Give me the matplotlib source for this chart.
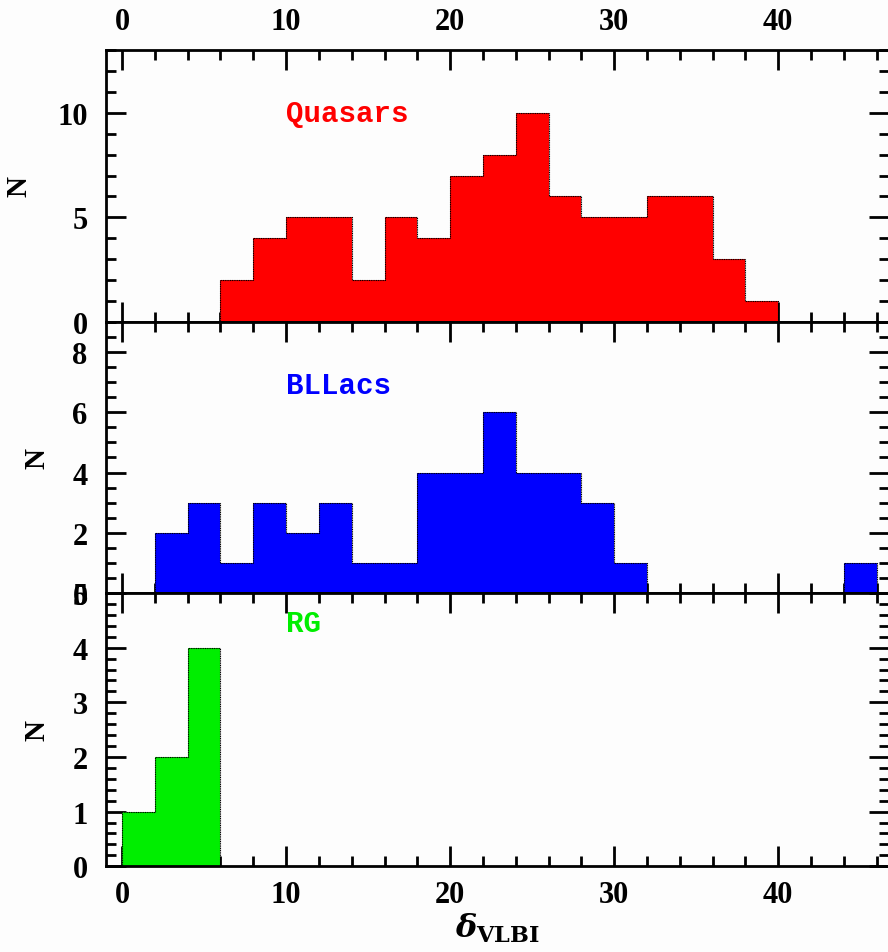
import matplotlib
matplotlib.use("Agg")
import matplotlib.pyplot as plt
from matplotlib.ticker import MultipleLocator
import numpy as np

# histogram data, bins of width 2 in delta_VLBI
quasar_edges = np.arange(6, 42, 2)
quasar_counts = [2, 4, 5, 5, 2, 5, 4, 7, 8, 10, 6, 5, 5, 6, 6, 3, 1]

bllac_edges = np.arange(2, 48, 2)
bllac_counts = [2, 3, 1, 3, 2, 3, 1, 1, 4, 4, 6, 4, 4, 3, 1, 0, 0, 0, 0, 0, 0, 1]

rg_edges = np.arange(0, 8, 2)
rg_counts = [1, 2, 4]

names = ["Quasars", "BLLacs", "RG"]
colors = ["#ff0000", "#0000ff", "#00ee00"]
ylims = [13, 9, 5]
ymajor = [5, 2, 1]
yminor = [1, 0.5, 0.2]
label_y = [10.0, 6.9, 4.45]

plt.rcParams['font.family'] = ['Liberation Serif', 'DejaVu Serif']
plt.rcParams['font.weight'] = 'bold'
plt.rcParams['mathtext.fontset'] = 'dejavuserif'

fig = plt.figure(figsize=(8.88, 9.53), dpi=100)
fig.patch.set_facecolor('#fdfdfd')

left, right = 0.119, 1.001
bounds = [0.9465, 0.6611, 0.3767, 0.0900]
axes = []
for i in range(3):
    ax = fig.add_axes([left, bounds[i + 1], right - left, bounds[i] - bounds[i + 1]])
    ax.set_facecolor('#fdfdfd')
    axes.append(ax)

data = [(quasar_edges, quasar_counts), (bllac_edges, bllac_counts), (rg_edges, rg_counts)]

for i, ax in enumerate(axes):
    edges, counts = data[i]
    ax.stairs(counts, edges, fill=True, color=colors[i], zorder=2)
    ax.stairs(counts, edges, color='black', linewidth=0.8, linestyle=(0, (1, 0.6)), zorder=3)
    ax.set_xlim(-1, 46.75)
    ax.set_ylim(0, ylims[i])
    ax.xaxis.set_major_locator(MultipleLocator(10))
    ax.xaxis.set_minor_locator(MultipleLocator(2))
    ax.yaxis.set_major_locator(MultipleLocator(ymajor[i]))
    ax.yaxis.set_minor_locator(MultipleLocator(yminor[i]))
    ax.tick_params(which='both', direction='in', top=True, right=True, width=2,
                   labelsize=22)
    ax.tick_params(axis='y', pad=13)
    ax.tick_params(axis='x', pad=10)
    ax.tick_params(which='major', length=14.5)
    ax.tick_params(which='minor', length=7.5)
    ax.tick_params(axis='x', labelbottom=(i == 2), labeltop=(i == 0))
    for s in ax.spines.values():
        s.set_linewidth(2)
    ax.set_ylabel("N", fontsize=21, fontweight='bold')
    ax.text(10, label_y[i], names[i], color=colors[i], fontsize=21,
            family='Liberation Mono', fontweight='bold', va='center', ha='left')

axes[0].yaxis.set_label_coords(-0.094, 0.5)
axes[1].yaxis.set_label_coords(-0.071, 0.5)
axes[2].yaxis.set_label_coords(-0.071, 0.5)

axes[2].set_xlabel(r"$\delta_{\mathbf{VLBI}}$", fontsize=23, labelpad=1)

fig.savefig("out.png", dpi=100, facecolor=fig.get_facecolor())
